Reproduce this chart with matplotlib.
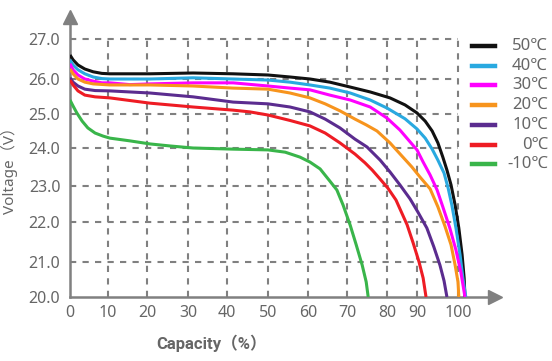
import numpy as np
import matplotlib.pyplot as plt
from matplotlib.lines import Line2D

plt.rcParams['font.family'] = ['Noto Sans', 'Noto Sans CJK SC', 'DejaVu Sans']

# tick values and where the (hand drawn) grid puts them
x_ticks = [0, 10, 20, 30, 40, 50, 60, 70, 80, 90, 100]
x_tick_pos = [70, 108, 147, 188, 227, 268, 308, 347, 387, 417, 458]
y_ticks = [20, 21, 22, 23, 24, 25, 26, 27]
y_tick_pos = [-297, -262, -222, -186, -148, -114, -79, -39]

labels = ['50℃', '40℃', '30℃', '20℃', '10℃', '0℃', '-10℃']
colors = ['#111111', '#29a9e0', '#ff00ff', '#f7941d', '#5b2c8f', '#ee1c24', '#39b54a']

cap_50 = [0, 0.8, 2.1, 3.9, 6.1, 8.4, 10.5, 20.7, 31.3, 41.5, 50, 55.5, 60.5, 65.6, 70.8, 75.8, 81.0,
          86.0, 90.0, 92.0, 93.7, 95.1, 96.3, 97.3, 98.3, 99.3, 100.2, 101.0, 101.5, 101.7]
v_50 = [26.60, 26.48, 26.35, 26.25, 26.18, 26.14, 26.13, 26.13, 26.15, 26.13, 26.10, 26.05, 26.00, 25.91,
        25.77, 25.63, 25.46, 25.26, 25.03, 24.79, 24.50, 24.15, 23.76, 23.42, 23.03, 22.47, 21.85, 21.18,
        20.54, 20.0]

cap_40 = [0, 0.8, 2.1, 3.9, 6.1, 8.4, 10.5, 20.7, 31.3, 41.5, 50, 55.5, 60.5, 65.6, 70.8, 75.8, 80.0,
          86.0, 90.0, 92.0, 93.7, 95.1, 96.6, 97.6, 98.5, 99.5, 100.5, 101.2, 101.9]
v_40 = [26.48, 26.35, 26.23, 26.13, 26.05, 26.01, 26.00, 26.00, 26.03, 26.00, 25.97, 25.91, 25.83, 25.74,
        25.60, 25.40, 25.17, 24.86, 24.56, 24.29, 23.97, 23.68, 23.34, 22.94, 22.47, 21.85, 21.18, 20.54,
        20.0]

cap_30 = [0, 0.8, 2.1, 3.9, 6.1, 8.4, 10.5, 15.6, 20.7, 31.3, 41.5, 50, 55.5, 60.5, 65.6, 70.8, 75.8,
          80.0, 84.3, 87.7, 90.0, 91.5, 93.2, 94.9, 96.3, 98.0, 99.5, 100.7, 101.7]
v_30 = [26.38, 26.23, 26.10, 26.00, 25.94, 25.89, 25.89, 25.84, 25.86, 25.89, 25.89, 25.80, 25.74, 25.69,
        25.54, 25.40, 25.20, 24.88, 24.53, 24.18, 23.95, 23.63, 23.29, 22.89, 22.42, 21.85, 21.30, 20.71,
        20.0]

cap_20 = [0, 0.8, 2.1, 3.9, 6.1, 10.5, 20.7, 31.3, 41.5, 50, 55.5, 60.5, 64.4, 68.2, 72.0, 74.8, 77.5,
          81.0, 85.3, 88.3, 90.7, 93.2, 95.1, 96.8, 98.3, 99.3, 100.0, 100.2]
v_20 = [26.25, 26.13, 26.00, 25.91, 25.86, 25.83, 25.83, 25.80, 25.74, 25.71, 25.60, 25.46, 25.29, 25.09,
        24.85, 24.68, 24.50, 24.15, 23.76, 23.50, 23.24, 22.92, 22.42, 21.90, 21.43, 20.91, 20.43, 20.0]

cap_10 = [0, 0.8, 2.1, 3.9, 6.6, 10.5, 20.7, 31.3, 41.5, 50, 55.5, 60.5, 64.4, 68.2, 72.0, 75.0, 78.3,
          81.0, 84.3, 87.7, 90.2, 92.4, 94.1, 95.6, 96.6, 97.3]
v_10 = [26.03, 25.91, 25.80, 25.71, 25.67, 25.66, 25.60, 25.49, 25.34, 25.29, 25.20, 25.06, 24.85, 24.59,
        24.26, 24.03, 23.68, 23.37, 23.03, 22.64, 22.28, 21.85, 21.38, 20.91, 20.46, 20.0]

cap_0 = [0, 0.8, 2.1, 3.9, 6.6, 10.5, 20.7, 31.3, 41.5, 45.6, 50, 55.5, 60.5, 64.4, 68.2, 72.0, 74.5,
         76.3, 78.3, 80.3, 83.0, 86.7, 88.7, 90.5, 91.5, 92.2]
v_0 = [25.97, 25.83, 25.66, 25.54, 25.49, 25.46, 25.31, 25.20, 25.11, 25.06, 24.97, 24.81, 24.65, 24.44,
       24.15, 23.84, 23.61, 23.42, 23.18, 22.94, 22.61, 21.93, 21.48, 21.00, 20.54, 20.0]

cap_m10 = [0, 0.8, 1.8, 3.2, 4.7, 6.6, 8.7, 10.5, 15.6, 20.7, 25.6, 31.3, 41.5, 50, 54.3, 58.0, 60.5,
           63.1, 65.6, 67.4, 69.0, 70.8, 72.3, 73.8, 74.8, 75.3]
v_m10 = [25.40, 25.23, 25.03, 24.79, 24.59, 24.44, 24.35, 24.29, 24.21, 24.12, 24.06, 24.00, 23.97, 23.95,
         23.89, 23.76, 23.63, 23.45, 23.13, 22.89, 22.47, 21.92, 21.43, 20.91, 20.43, 20.0]

caps = [cap_50, cap_40, cap_30, cap_20, cap_10, cap_0, cap_m10]
volts = [v_50, v_40, v_30, v_20, v_10, v_0, v_m10]


def piecewise(vals, pos):
    vals = np.asarray(vals, float)
    pos = np.asarray(pos, float)

    def mk(a, b):
        def f(v):
            v = np.asarray(v, float)
            out = np.interp(v, a, b)
            out = np.where(v < a[0], b[0] + (v - a[0]) * (b[1] - b[0]) / (a[1] - a[0]), out)
            out = np.where(v > a[-1], b[-1] + (v - a[-1]) * (b[-1] - b[-2]) / (a[-1] - a[-2]), out)
            return out
        return f
    return mk(vals, pos), mk(pos, vals)


fx, ix = piecewise(x_ticks, x_tick_pos)
fy, iy = piecewise(y_ticks, y_tick_pos)

fig = plt.figure(figsize=(5.52, 3.61), dpi=100)
W, H = 552, 361
left, right, top, bottom = 70, 495, 17, 297
ax = fig.add_axes([left / W, (H - bottom) / H, (right - left) / W, (bottom - top) / H])
ax.set_xscale('function', functions=(fx, ix))
ax.set_yscale('function', functions=(fy, iy))
ax.set_xlim(0, float(ix(right)))
ax.set_ylim(20, float(iy(-top)))

grey = '#808080'
ax.hlines(y_ticks[1:], 0, 100, colors=grey, linestyles=(0, (3, 3)), lw=1.5, zorder=1)
ax.vlines(x_ticks[1:], 20, 27, colors=grey, linestyles=(0, (3, 3)), lw=1.5, zorder=1)

for c, v, col in zip(caps, volts, colors):
    ax.plot(c, v, color=col, lw=2.2, solid_capstyle='butt', solid_joinstyle='round', zorder=3)

for s in ['top', 'right']:
    ax.spines[s].set_visible(False)
for s in ['left', 'bottom']:
    ax.spines[s].set_color(grey)
    ax.spines[s].set_linewidth(1.8)
ax.plot([0], [1], marker='^', ms=10, color=grey, transform=ax.transAxes, clip_on=False)
ax.plot([1], [0], marker='>', ms=10, color=grey, transform=ax.transAxes, clip_on=False)

ax.set_xticks(x_ticks)
ax.set_xticklabels([str(t) for t in x_ticks])
ax.set_yticks(y_ticks)
ax.set_yticklabels(['%.1f' % t for t in y_ticks])
ax.minorticks_off()
ax.tick_params(length=0, labelsize=11.5, labelcolor='#666666')
ax.tick_params(axis='y', pad=7)
ax.tick_params(axis='x', pad=6)

fig.text(212 / W, 1 - 343 / H, 'Capacity（%）', ha='center', va='center',
         fontsize=12, fontweight='bold', color='#666666',
         family=['Roboto', 'Noto Sans CJK SC'])
fig.text(9 / W, 1 - 167 / H, 'Voltage（V）', ha='center', va='center',
         rotation=90, fontsize=11, color='#666666')

# legend, text right aligned like the original
for i, (lab, col) in enumerate(zip(labels, colors)):
    yy = 1 - (46 + i * 19.7) / H
    fig.add_artist(Line2D([472 / W, 495 / W], [yy, yy], color=col, lw=3.2,
                          transform=fig.transFigure))
    fig.text(548 / W, yy, lab, ha='right', va='center', fontsize=12, color='#666666')

fig.savefig('out.png', dpi=100)
